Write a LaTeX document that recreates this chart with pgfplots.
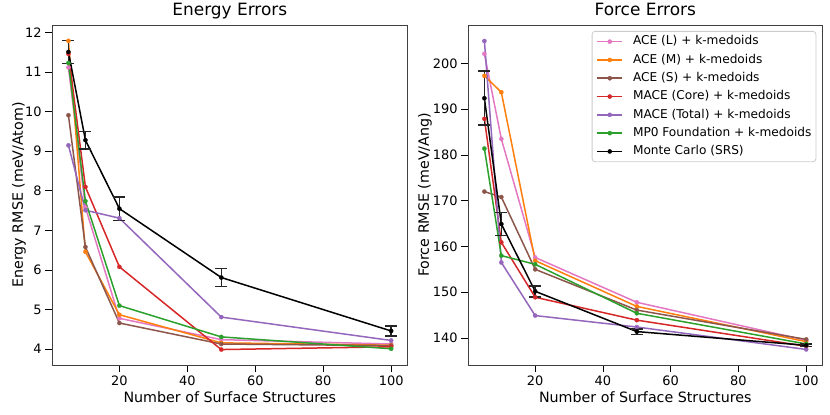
\documentclass[border=0pt]{standalone}
\usepackage{fontspec}
\setmainfont{DejaVu Sans}
\usepackage{pgfplots}
\pgfplotsset{compat=1.18}
\definecolor{tpink}{HTML}{E377C2}
\definecolor{torange}{HTML}{FF7F0E}
\definecolor{tbrown}{HTML}{8C564B}
\definecolor{tred}{HTML}{D62728}
\definecolor{tpurple}{HTML}{9467BD}
\definecolor{tgreen}{HTML}{2CA02C}
\pgfplotsset{
  myaxis/.style={
    scale only axis, height=340bp,
    xmin=0.25, xmax=104.75,
    xtick={20,40,60,80,100},
    tick align=outside, tick pos=left,
    major tick length=7bp,
    every tick/.style={black, line width=0.8bp},
    axis line style={black!75, line width=0.8bp},
    ticklabel style={font=\fontsize{13}{15}\selectfont},
    yticklabel style={inner xsep=3.6bp},
    /pgf/number format/assume math mode=true,
    label style={font=\fontsize{14.3}{16}\selectfont},
    title style={font=\fontsize{17}{19}\selectfont, at={(axis description cs:0.5,1.0118)}, anchor=base},
    xlabel style={at={(axis description cs:0.5,-0.1103)}, anchor=base},
    every axis plot/.append style={line width=1.5bp, mark=*, mark size=2.1bp, mark options={solid, line width=0.3bp}},
  },
  mcerr/.style={black, error bars/.cd, y dir=both, y explicit,
    error bar style={line width=1.5bp, black!85},
    error mark options={rotate=90, mark size=6bp, line width=1.5bp, black!85}},
}
\begin{document}
\begin{tikzpicture}
\path[use as bounding box] (0,0) rectangle (830bp,415bp);
\begin{axis}[myaxis, at={(52.3bp,50bp)}, anchor=south west, width=355bp,
  ymin=3.60, ymax=12.19, ytick={4,5,6,7,8,9,10,11,12},
  title={Energy Errors},
  xlabel={Number of Surface Structures},
  ylabel={Energy RMSE (meV/Atom)},
  ylabel style={at={(axis description cs:-0.094,0.5)}, anchor=center},
]
\addplot[tpink] coordinates {(5,11.12) (10,7.58) (20,4.78) (50,4.24) (100,4.13)};
\addplot[torange] coordinates {(5,11.79) (10,6.46) (20,4.87) (50,4.16) (100,4.10)};
\addplot[tbrown] coordinates {(5,9.91) (10,6.58) (20,4.66) (50,4.13) (100,4.09)};
\addplot[tred] coordinates {(5,11.46) (10,8.10) (20,6.08) (50,3.99) (100,4.06)};
\addplot[tpurple] coordinates {(5,9.15) (10,7.51) (20,7.31) (50,4.81) (100,4.22)};
\addplot[tgreen] coordinates {(5,11.23) (10,7.74) (20,5.10) (50,4.31) (100,4.01)};
\addplot[mcerr] coordinates {(5,11.51) +- (0,0.29) (10,9.28) +- (0,0.22) (20,7.55) +- (0,0.30) (50,5.81) +- (0,0.23) (100,4.46) +- (0,0.13)};
\end{axis}
\begin{axis}[myaxis, at={(468.3bp,50bp)}, anchor=south west, width=354bp,
  ymin=134.1, ymax=208.4, ytick={140,150,160,170,180,190,200},
  title={Force Errors},
  xlabel={Number of Surface Structures},
  ylabel={Force RMSE (meV/Ang)},
  ylabel style={at={(axis description cs:-0.1225,0.5)}, anchor=center},
  legend cell align=left,
  legend style={at={(axis description cs:1,1)}, anchor=north east, xshift=-6bp, yshift=-6bp,
    draw=black!20, rounded corners=3bp, fill=white, line width=0.8bp,
    font=\fontsize{12.2}{14}\selectfont,
    inner xsep=4.4bp, inner ysep=4bp, row sep=5.8bp, column sep=0pt,
    nodes={inner xsep=0pt, inner ysep=0pt, text height=9.5bp, text depth=3bp}},
  legend image code/.code={\draw[line width=1.5bp, mark size=2.1bp, mark repeat=2, mark phase=2] plot coordinates {(0bp,0bp) (12.5bp,0bp) (25bp,0bp)}; \path (35bp,0bp);},
]
\addplot[tpink] coordinates {(5,202.1) (10,183.5) (20,157.6) (50,147.8) (100,139.5)};
\addlegendentry{ACE (L) + k-medoids}
\addplot[torange] coordinates {(5,197.3) (10,193.7) (20,156.9) (50,146.9) (100,139.2)};
\addlegendentry{ACE (M) + k-medoids}
\addplot[tbrown] coordinates {(5,172.0) (10,170.8) (20,155.0) (50,146.1) (100,139.7)};
\addlegendentry{ACE (S) + k-medoids}
\addplot[tred] coordinates {(5,187.9) (10,160.9) (20,148.9) (50,143.9) (100,138.2)};
\addlegendentry{MACE (Core) + k-medoids}
\addplot[tpurple] coordinates {(5,204.9) (10,156.5) (20,144.9) (50,142.4) (100,137.5)};
\addlegendentry{MACE (Total) + k-medoids}
\addplot[tgreen] coordinates {(5,181.4) (10,158.0) (20,156.1) (50,145.4) (100,138.7)};
\addlegendentry{MP0 Foundation + k-medoids}
\addplot[mcerr] coordinates {(5,192.4) +- (0,5.9) (10,164.9) +- (0,2.5) (20,150.2) +- (0,1.2) (50,141.4) +- (0,0.6) (100,138.4) +- (0,0.3)};
\addlegendentry{Monte Carlo (SRS)}
\end{axis}
\end{tikzpicture}
\end{document}
